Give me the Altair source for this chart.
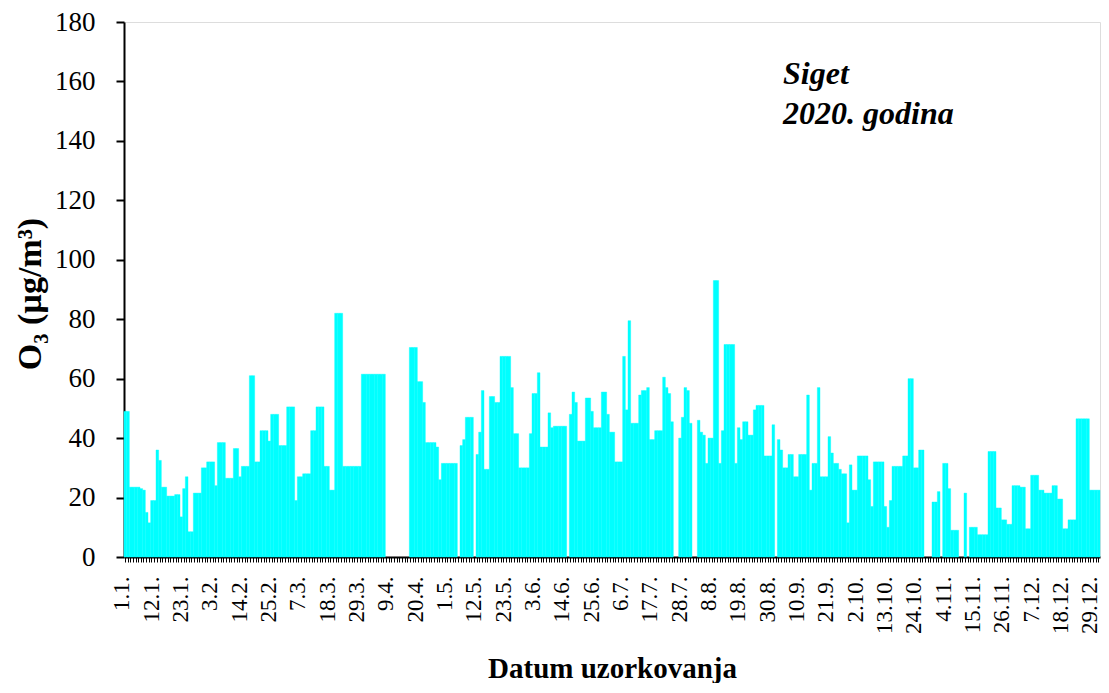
import altair as alt
import pandas as pd
import json

# Day labels for 2020 (leap year) in the chart's "d.m." style
DAY_LABELS = [f"{d.day}.{d.month}." for d in pd.date_range("2020-01-01", "2020-12-31")]

TICK_LABELS = ["1.1.", "12.1.", "23.1.", "3.2.", "14.2.", "25.2.", "7.3.", "18.3.",
               "29.3.", "9.4.", "20.4.", "1.5.", "12.5.", "23.5.", "3.6.", "14.6.",
               "25.6.", "6.7.", "17.7.", "28.7.", "8.8.", "19.8.", "30.8.", "10.9.",
               "21.9.", "2.10.", "13.10.", "24.10.", "4.11.", "15.11.", "26.11.",
               "7.12.", "18.12.", "29.12."]

N = None
O3_JAN = [49, 49, 23.5, 23.5, 23.5, 23.5, 23, 22.5, 15, 11.5, 19, 19, 36, 32.5, 23.5, 23.5,
          20.5, 20.5, 20.5, 21, 21, 13.5, 23, 27, 8.5, 8.5, 21.5, 21.5, 21.5, 30, 30]
O3_FEB = [32, 32, 32, 24, 38.5, 38.5, 38.5, 26.5, 26.5, 26.5, 36.5, 36.5, 27, 30.5, 30.5,
          30.5, 61, 61, 32, 32, 42.5, 42.5, 42.5, 39, 48, 48, 48, 37.5, 37.5]
O3_MAR = [37.5, 50.5, 50.5, 50.5, 19, 27, 27, 28, 28, 28, 42.5, 42.5, 50.5, 50.5, 50.5,
          30.5, 30.5, 22.5, 22.5, 82, 82, 82, 30.5, 30.5, 30.5, 30.5, 30.5, 30.5, 30.5,
          61.5, 61.5]
O3_APR = [61.5, 61.5, 61.5, 61.5, 61.5, 61.5, 61.5, N, N, N, N, N, N, N, N, N,
          70.5, 70.5, 70.5, 59, 59, 52, 38.5, 38.5, 38.5, 38.5, 37, 26, 31.5, 31.5]
O3_MAY = [31.5, 31.5, 31.5, 31.5, N, 37.5, 39.5, 47, 47, 47, N, 34.5, 42, 56, 29.5, 29.5,
          54, 54, 52, 52, 67.5, 67.5, 67.5, 67.5, 57, 41.5, 41.5, 30, 30, 30, 30]
O3_JUN = [41.5, 55, 55, 62, 37, 37, 37, 48.5, 43.5, 44, 44, 44, 44, 44, N, 48, 55.5, 52,
          39, 39, 39, 53.5, 53.5, 49, 43.5, 43.5, 43.5, 55.5, 55.5, 48]
O3_JUL = [42, 42, 32, 32, 32, 67.5, 49.5, 79.5, 45, 45, 45, 54.5, 56, 56, 57, 39.5, 39.5,
          42.5, 42.5, 42.5, 60.5, 57, 55, 45.5, N, N, 40, 47, 57, 56, 45]
O3_AUG = [N, N, 46, 42, 41, 31.5, 40, 40, 93, 93, 31.5, 42.5, 71.5, 71.5, 71.5, 71.5, 31.5,
          43.5, 39.5, 45.5, 45.5, 41, 41, 49.5, 51, 51, 51, 34, 34, 34, 44.5]
O3_SEP = [N, 39.5, 36, 30, 30, 34.5, 34.5, 27, 27, 34.5, 34.5, 34.5, 54.5, 22.5, 31.5, 31.5,
          57, 27, 27, 27, 40.5, 35, 31.5, 31.5, 29.5, 28, 28, 11.5, 31, 22.5]
O3_OCT = [22.5, 34, 34, 34, 34, 26, 17, 32, 32, 32, 32, 17, 10, 19, 30.5, 30.5, 30.5, 30.5,
          34, 34, 60, 60, 30, 30, 36, 36, N, N, N, 18.5, 18.5]
O3_NOV = [22, N, 31.5, 31.5, 23, 9, 9, 9, N, N, 21.5, N, 10, 10, 10, 7.5, 7.5, 7.5, 7.5,
          35.5, 35.5, 35.5, 16.5, 16.5, 12.5, 12.5, 11, 11, 24, 24]
O3_DEC = [24, 23.5, 23.5, 9.5, 9.5, 27.5, 27.5, 27.5, 22.5, 22.5, 21.5, 21.5, 21.5, 24, 24,
          19.5, 19.5, 9.5, 9.5, 12.5, 12.5, 12.5, 46.5, 46.5, 46.5, 46.5, 46.5, 22.5, 22.5,
          22.5, 22.5]

values = (O3_JAN + O3_FEB + O3_MAR + O3_APR + O3_MAY + O3_JUN + O3_JUL + O3_AUG
          + O3_SEP + O3_OCT + O3_NOV + O3_DEC)

df = pd.DataFrame({"datum": DAY_LABELS, "o3": values})

FONT = "Liberation Serif, Times New Roman, DejaVu Serif, serif"
W, H = 976, 535

label_expr = "indexof(" + json.dumps(TICK_LABELS) + ", datum.value) >= 0 ? datum.value : ''"

bars = alt.Chart(df).mark_bar(color="#00FFFF", stroke="#00FFFF", strokeWidth=0.4).encode(
    x=alt.X("datum:O", sort=None,
            scale=alt.Scale(domain=DAY_LABELS, paddingInner=0, paddingOuter=0),
            axis=alt.Axis(title="Datum uzorkovanja", labelExpr=label_expr,
                          labelOverlap=False, labelAngle=-90, labelAlign="right",
                          labelBaseline="middle", labelFont=FONT, labelFontSize=23,
                          labelColor="black", labelPadding=14, labelOffset=-3,
                          tickSize=5, tickColor="black", tickWidth=1,
                          domainColor="black", domainWidth=2, titleFont=FONT,
                          titleFontSize=29, titleFontWeight="bold", titleColor="black",
                          titleY=120, titleBaseline="alphabetic")),
    y=alt.Y("o3:Q", scale=alt.Scale(domain=[0, 180]),
            axis=alt.Axis(title="O₃ (µg/m³)", values=list(range(0, 181, 20)),
                          labelFont=FONT, labelFontSize=27, labelColor="black",
                          labelPadding=21, tickSize=8, tickColor="black", tickWidth=2,
                          domainColor="black", domainWidth=2, grid=False,
                          titleFont=FONT, titleFontSize=34, titleFontWeight="bold",
                          titleColor="black", titleX=-84, titleY=H / 2 + 4,
                          titleAlign="center", titleBaseline="alphabetic")),
)

note1 = alt.Chart(pd.DataFrame({"t": ["Siget"]})).mark_text(
    align="left", baseline="alphabetic", font=FONT, fontSize=32,
    fontStyle="italic", fontWeight="bold", color="black"
).encode(x=alt.value(659), y=alt.value(62), text="t:N")

note2 = alt.Chart(pd.DataFrame({"t": ["2020. godina"]})).mark_text(
    align="left", baseline="alphabetic", font=FONT, fontSize=32,
    fontStyle="italic", fontWeight="bold", color="black"
).encode(x=alt.value(659), y=alt.value(102), text="t:N")

chart = alt.layer(bars, note1, note2).properties(
    width=W, height=H,
    autosize=alt.AutoSizeParams(type="none"),
    padding={"left": 116, "top": 14, "right": 1, "bottom": 126},
).configure_view(stroke="black", strokeWidth=2).configure(background="white")

chart.save("out.html", embed_options={"renderer": "svg", "actions": False})
